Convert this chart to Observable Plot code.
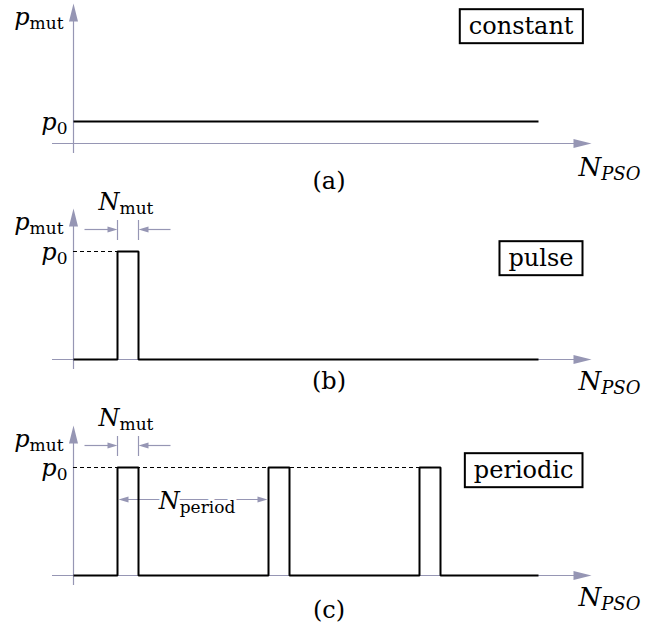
<!DOCTYPE html>
<html>
<head>
<meta charset="utf-8">
<script src="https://cdn.jsdelivr.net/npm/d3@7"></script>
<script src="https://cdn.jsdelivr.net/npm/@observablehq/plot@0.6"></script>
<style>
  body { margin: 0; background: #fff; }
  #chart { width: 672px; height: 627px; }
  #chart svg { display: block; }
  #chart text { font-family: "DejaVu Serif", serif !important; }
</style>
</head>
<body>
<div id="chart"></div>
<script>
// Mutation-probability schedules p_mut over the PSO iterations N_PSO.
const p0 = 1;                           // mutation level p_0
const runLength = 465;                  // last iteration drawn
const nMut = 21;                        // pulse width N_mut
const constantLevel = [p0];
const pulseOnsets = [44];               // single pulse
const periodicOnsets = [44, 195, 346];  // onsets spaced by N_period
const schemeNames = ["constant", "pulse", "periodic"];
const panelTags = ["(a)", "(b)", "(c)"];
const yLabel = "p_mut";
const levelLabel = "p_0";
const xLabel = "N_PSO";
const widthLabel = "N_mut";
const periodLabel = "N_period";

const axisColor = "#9696b4";
const font = "DejaVu Serif";
const NS = "http://www.w3.org/2000/svg";

// Filled, slender arrowhead with its tip at the origin, pointing up.
const head = (len, half) => ({
  draw(ctx) { ctx.moveTo(0, 0); ctx.lineTo(half, len); ctx.lineTo(-half, len); ctx.closePath(); }
});
const bigHead = head(18, 4.5);
const smallHead = head(10, 3);

function constantSeries(level) {
  return [{n: 0, p: level}, {n: runLength, p: level}];
}
function pulseSeries(onsets) {
  const pts = [{n: 0, p: 0}];
  for (const s of onsets) pts.push({n: s, p: 0}, {n: s, p: p0}, {n: s + nMut, p: p0}, {n: s + nMut, p: 0});
  pts.push({n: runLength, p: 0});
  return pts;
}

// Dimension arrows: a grey shaft and a filled head at `to`.
function dimArrows(arrows, y) {
  return [
    Plot.link(arrows, {x1: "from", x2: d => d.to - Math.sign(d.to - d.from) * 9, y1: y, y2: y,
      stroke: axisColor, strokeWidth: 1.2}),
    Plot.dot(arrows, {x: "to", y: y, symbol: smallHead, fill: axisColor, stroke: "none",
      rotate: d => (d.to > d.from ? 90 : -90)})
  ];
}

const txt = (data, opts) => Plot.text(data, {fontFamily: font, fontSize: 24, fill: "black", ...opts});

function panel(cfg) {
  const {scheme, tag, series, onsets, height, tipY, footY, axisY, levelY, boxDy, tagDy, nDy} = cfg;
  const unit = axisY - levelY;
  const up = px => p0 * (1 + px / unit);   // px offset above the p_0 level, in data units
  const marks = [
    // axes with arrowheads
    Plot.ruleY([0], {stroke: axisColor, strokeWidth: 1.2, insetRight: 16}),
    Plot.ruleX([0], {stroke: axisColor, strokeWidth: 1.2, insetTop: 16}),
    Plot.dot([0], {x: d => d, frameAnchor: "top", symbol: bigHead, fill: axisColor, stroke: "none"}),
    Plot.dot([0], {y: d => d, frameAnchor: "right", symbol: bigHead, rotate: 90, fill: axisColor, stroke: "none"})
  ];
  if (onsets) {
    const s = onsets[0];
    marks.push(
      Plot.ruleY([p0], {x1: 0, x2: onsets[onsets.length - 1], stroke: "black", strokeWidth: 1, strokeDasharray: "4,3"}),
      Plot.ruleX([s, s + nMut], {y1: up(11), y2: up(31), stroke: axisColor, strokeWidth: 1.2}),
      ...dimArrows([{from: s - 33, to: s}, {from: s + nMut + 32, to: s + nMut}], up(22)),
      txt([widthLabel], {x: s + nMut / 2, y: up(42), dx: -2, lineAnchor: "bottom"})
    );
    if (onsets.length > 1) {
      const mid = (onsets[0] + onsets[1]) / 2;
      marks.push(
        ...dimArrows([{from: mid, to: onsets[0] + 1}, {from: mid, to: onsets[1] - 1}], up(-32)),
        txt([periodLabel], {x: mid, y: up(-41), dx: 4, lineAnchor: "bottom", stroke: "white", strokeWidth: 6})
      );
    }
  }
  marks.push(
    Plot.line(series, {x: "n", y: "p", stroke: "black", strokeWidth: 2, strokeLinejoin: "miter", strokeLinecap: "butt"}),
    txt([yLabel], {x: 0, frameAnchor: "top", dx: -10, dy: 21, textAnchor: "end", lineAnchor: "bottom"}),
    txt([levelLabel], {x: 0, y: p0, dx: -6, dy: 8, textAnchor: "end", lineAnchor: "bottom"}),
    txt([xLabel], {frameAnchor: "bottom-right", dx: -13, dy: nDy, textAnchor: "start", lineAnchor: "bottom", fontSize: 26}),
    txt([tag], {frameAnchor: "bottom", dx: 7, dy: tagDy, lineAnchor: "middle"}),
    txt([scheme], {frameAnchor: "top-right", dx: -18, dy: boxDy, textAnchor: "end", lineAnchor: "middle"})
  );
  return Plot.plot({
    width: 672,
    height,
    marginLeft: 52,
    marginRight: 81,
    marginTop: tipY,
    marginBottom: height - footY,
    style: {fontFamily: font, overflow: "visible", background: "white"},
    x: {domain: [-21, 518], axis: null},
    y: {domain: [0, p0], range: [axisY, levelY], axis: null},
    marks
  });
}

// Symbols written as base_sub: italic base, lowered subscript (italic for acronyms, upright for words).
function typeset(svg) {
  for (const t of svg.querySelectorAll("text")) {
    const m = t.textContent.match(/^([^_]+)_(.+)$/);
    if (!m) continue;
    const [, base, sub] = m;
    const acronym = /^[A-Z]+$/.test(sub);
    t.textContent = "";
    const b = document.createElementNS(NS, "tspan");
    b.setAttribute("font-style", "italic");
    b.textContent = base;
    const s = document.createElementNS(NS, "tspan");
    s.setAttribute("font-size", acronym ? "18" : "17");
    s.setAttribute("dy", "4");
    s.setAttribute("font-style", acronym ? "italic" : "normal");
    s.textContent = sub;
    t.append(b, s);
  }
}
// Boxed scheme names.
function frameSchemes(svg) {
  for (const t of svg.querySelectorAll("text")) {
    if (!schemeNames.includes(t.textContent)) continue;
    const bb = t.getBBox();
    const r = document.createElementNS(NS, "rect");
    r.setAttribute("x", bb.x - 9);
    r.setAttribute("y", bb.y - 3);
    r.setAttribute("width", bb.width + 18);
    r.setAttribute("height", bb.height + 6);
    if (t.getAttribute("transform")) r.setAttribute("transform", t.getAttribute("transform"));
    r.setAttribute("fill", "none");
    r.setAttribute("stroke", "black");
    r.setAttribute("stroke-width", 2);
    t.parentNode.insertBefore(r, t);
  }
}

const configs = [
  {series: constantSeries(constantLevel[0]), onsets: null,
   height: 200, tipY: 3, footY: 153, axisY: 143, levelY: 121, boxDy: 23, tagDy: 28, nDy: 22},
  {series: pulseSeries(pulseOnsets), onsets: pulseOnsets,
   height: 210, tipY: 8, footY: 169, axisY: 159, levelY: 51, boxDy: 50, tagDy: 12, nDy: 20},
  {series: pulseSeries(periodicOnsets), onsets: periodicOnsets,
   height: 217, tipY: 15, footY: 175, axisY: 165, levelY: 57, boxDy: 45, tagDy: 25, nDy: 20}
];

const chart = document.getElementById("chart");
configs.forEach((cfg, i) => {
  const svg = panel({...cfg, scheme: schemeNames[i], tag: panelTags[i]});
  chart.appendChild(svg);
  typeset(svg);
  frameSchemes(svg);
});
</script>
</body>
</html>
